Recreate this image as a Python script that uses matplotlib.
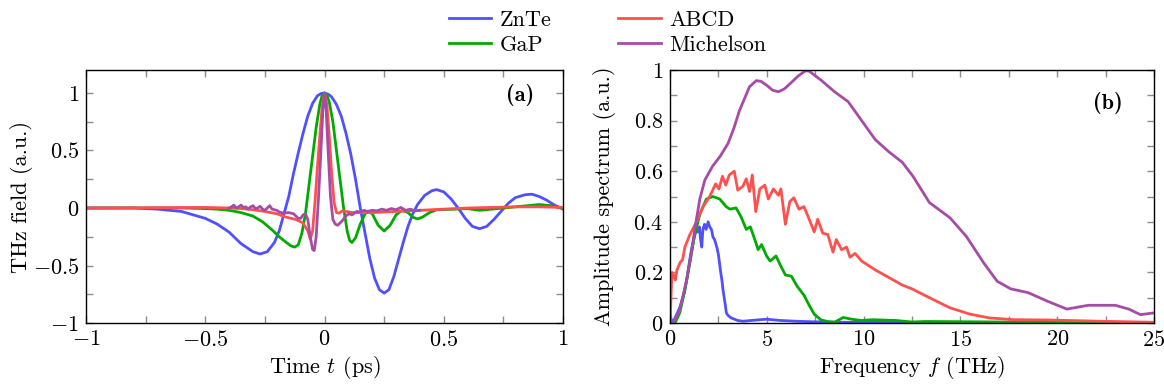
import numpy as np
from matplotlib import pyplot as plt
from matplotlib.ticker import MultipleLocator, FuncFormatter

plt.rcParams['font.family'] = 'cmr10'
plt.rcParams['mathtext.fontset'] = 'cm'
plt.rcParams['axes.formatter.use_mathtext'] = True
plt.rcParams['font.size'] = 16

# colours of the four detection schemes
c_znte = '#5050ff'
c_gap = '#00aa00'
c_abcd = '#ff5050'
c_mich = '#a64ca6'

# ---- (a) time domain, t in ps ----
t_znte = [-1.0, -0.8, -0.7, -0.6, -0.55, -0.5, -0.45, -0.4, -0.35, -0.3, -0.27, -0.24, -0.21,
          -0.19, -0.17, -0.15, -0.13, -0.11, -0.09, -0.07, -0.05, -0.03, -0.015, 0.0, 0.015,
          0.03, 0.05, 0.07, 0.09, 0.11, 0.13, 0.15, 0.17, 0.19, 0.21, 0.23, 0.25, 0.27, 0.29,
          0.31, 0.33, 0.35, 0.37, 0.39, 0.42, 0.45, 0.47, 0.5, 0.53, 0.56, 0.59, 0.62, 0.65,
          0.68, 0.71, 0.74, 0.77, 0.8, 0.84, 0.87, 0.9, 0.93, 0.96, 1.0]
e_znte = [0.0, 0.0, -0.01, -0.03, -0.06, -0.09, -0.14, -0.21, -0.31, -0.38, -0.4, -0.38, -0.3,
          -0.2, -0.05, 0.1, 0.3, 0.48, 0.65, 0.8, 0.91, 0.975, 0.995, 1.0, 0.99,
          0.965, 0.9, 0.8, 0.65, 0.47, 0.25, 0.0, -0.22, -0.44, -0.61, -0.71, -0.74, -0.71, -0.6,
          -0.45, -0.3, -0.16, -0.05, 0.03, 0.11, 0.15, 0.16, 0.14, 0.08, 0.0, -0.09, -0.16, -0.18,
          -0.16, -0.1, -0.03, 0.04, 0.09, 0.115, 0.12, 0.1, 0.07, 0.03, -0.01]

t_gap = [-1.0, -0.6, -0.5, -0.45, -0.4, -0.35, -0.3, -0.26, -0.22, -0.19, -0.16, -0.14, -0.125,
         -0.11, -0.095, -0.08, -0.065, -0.05, -0.035, -0.02, -0.01, 0.0, 0.01, 0.02, 0.035,
         0.05, 0.065, 0.08, 0.095, 0.105, 0.115, 0.13, 0.15, 0.17, 0.185, 0.2, 0.225, 0.25,
         0.275, 0.3, 0.325, 0.35, 0.37, 0.39, 0.41, 0.44, 0.47, 0.55, 0.6, 0.65, 0.7, 0.8,
         0.9, 0.95, 1.0]
e_gap = [0.0, 0.0, -0.005, -0.01, -0.02, -0.04, -0.07, -0.12, -0.19, -0.25, -0.3, -0.33, -0.34,
         -0.32, -0.22, -0.05, 0.2, 0.45, 0.7, 0.9, 0.98, 1.0, 0.98, 0.92, 0.75,
         0.5, 0.25, 0.0, -0.2, -0.28, -0.3, -0.26, -0.14, -0.05, -0.03, -0.05, -0.15, -0.2,
         -0.15, -0.06, -0.02, -0.04, -0.08, -0.095, -0.08, -0.04, -0.015, -0.01, -0.005, -0.02,
         -0.01, 0.01, 0.03, 0.02, 0.0]

t_abcd = [-1.0, -0.5, -0.4, -0.35, -0.3, -0.25, -0.2, -0.16, -0.12, -0.09, -0.07, -0.06, -0.05,
          -0.04, -0.03, -0.02, -0.01, 0.0, 0.01, 0.02, 0.03, 0.04, 0.05, 0.06, 0.075, 0.09,
          0.12, 0.2, 0.3, 0.4, 0.5, 0.6, 0.7, 0.8, 0.9, 1.0]
e_abcd = [0.0, 0.005, 0.0, -0.005, -0.015, -0.03, -0.05, -0.08, -0.1, -0.13, -0.2, -0.27, -0.2,
          0.05, 0.35, 0.62, 0.88, 1.0, 0.9, 0.62, 0.3, 0.05, -0.04, -0.045, -0.025, -0.03,
          -0.04, -0.04, -0.03, -0.02, -0.01, 0.0, 0.005, 0.01, 0.01, 0.005]

t_mich = [-0.4, -0.39, -0.38, -0.37, -0.36, -0.35, -0.34, -0.33, -0.32, -0.31, -0.3, -0.29,
          -0.28, -0.27, -0.26, -0.25, -0.24, -0.23, -0.22, -0.2, -0.19, -0.17, -0.15, -0.13,
          -0.12, -0.11, -0.1, -0.09, -0.08, -0.07, -0.06, -0.05, -0.043, -0.035, -0.025,
          -0.015, -0.007, 0.0, 0.007, 0.015, 0.025, 0.035, 0.045, 0.055, 0.065, 0.075, 0.085,
          0.095, 0.105, 0.115, 0.125, 0.135, 0.15, 0.165, 0.18, 0.2, 0.22, 0.24, 0.26, 0.28,
          0.3, 0.32, 0.34, 0.36, 0.38, 0.4]
e_mich = [0.0, 0.01, 0.025, 0.0, 0.01, 0.025, 0.005, 0.01, -0.01, 0.01, 0.02, -0.005,
          0.0, 0.015, -0.01, -0.02, 0.0, 0.02, -0.01, -0.02, -0.035, -0.045, -0.04, -0.05,
          -0.07, -0.09, -0.09, -0.06, -0.05, -0.1, -0.25, -0.36, -0.37, -0.25, 0.1,
          0.5, 0.85, 1.0, 0.85, 0.5, 0.1, -0.1, -0.14, -0.15, -0.13, -0.11, -0.08,
          -0.06, -0.05, -0.06, -0.045, -0.03, -0.035, -0.02, -0.03, -0.02, -0.025, -0.01, -0.02,
          -0.005, -0.015, 0.005, -0.02, -0.01, -0.025, -0.02]

# ---- (b) amplitude spectra, f in THz ----
f_znte = [0.0, 0.1, 0.2, 0.5, 0.7, 0.86, 1.0, 1.11, 1.25, 1.37, 1.45, 1.52, 1.58, 1.64, 1.7,
          1.78, 1.86, 1.97, 2.05, 2.14, 2.22, 2.3, 2.38, 2.45, 2.5, 2.57, 2.62, 2.68, 2.74,
          2.8, 2.86, 2.91, 3.0, 3.16, 3.5, 3.76, 4.2, 4.64, 5.0, 5.7, 6.5, 7.3, 9.0, 12.0, 25.0]
s_znte = [0.04, 0.0, 0.01, 0.06, 0.11, 0.17, 0.24, 0.29, 0.34, 0.37, 0.36, 0.38, 0.33, 0.3, 0.37,
          0.39, 0.37, 0.4, 0.38, 0.37, 0.34, 0.33, 0.31, 0.29, 0.27, 0.23, 0.2, 0.17, 0.13,
          0.1, 0.07, 0.04, 0.03, 0.02, 0.01, 0.007, 0.01, 0.013, 0.015, 0.01, 0.007, 0.005,
          0.003, 0.002, 0.001]

f_gap = [0.0, 0.26, 0.5, 0.77, 1.03, 1.28, 1.54, 1.88, 2.22, 2.57, 2.9, 3.1, 3.41, 3.67, 3.94,
         4.15, 4.38, 4.55, 4.73, 4.99, 5.17, 5.48, 5.69, 5.96, 6.27, 6.57, 6.92, 7.19, 7.45,
         7.8, 8.2, 8.5, 8.95, 9.38, 9.9, 10.44, 11.66, 12.5, 13.2, 15.2, 18.7, 25.0]
s_gap = [0.0, 0.0, 0.04, 0.13, 0.24, 0.35, 0.43, 0.49, 0.5, 0.49, 0.46, 0.45, 0.455, 0.42, 0.37,
         0.38, 0.33, 0.29, 0.31, 0.265, 0.245, 0.265, 0.23, 0.19, 0.185, 0.145, 0.11, 0.07,
         0.035, 0.012, 0.005, 0.003, 0.022, 0.015, 0.01, 0.013, 0.01, 0.004, 0.006, 0.005,
         0.003, 0.002]

f_abcd = [0.0, 0.05, 0.1, 0.18, 0.27, 0.36, 0.53, 0.65, 0.77, 1.03, 1.37, 1.71, 2.05, 2.36, 2.53,
          2.71, 2.88, 3.06, 3.32, 3.5, 3.76, 3.94, 4.11, 4.25, 4.43, 4.64, 4.9, 5.08, 5.34,
          5.6, 5.73, 5.96, 6.19, 6.4, 6.66, 6.92, 7.19, 7.45, 7.63, 7.89, 8.15, 8.42, 8.59,
          8.86, 9.12, 9.3, 9.56, 9.9, 10.6, 11.3, 12.0, 12.5, 13.4, 14.46, 15.5, 16.5, 17.8,
          19.5, 22.2, 25.0]
s_abcd = [0.0, 0.1, 0.2, 0.19, 0.17, 0.21, 0.24, 0.25, 0.3, 0.35, 0.4, 0.46, 0.5, 0.55, 0.53,
          0.58, 0.545, 0.585, 0.6, 0.525, 0.54, 0.57, 0.52, 0.585, 0.44, 0.53, 0.545, 0.49, 0.53,
          0.505, 0.53, 0.39, 0.48, 0.495, 0.45, 0.46, 0.41, 0.36, 0.41, 0.355, 0.35, 0.28, 0.33,
          0.29, 0.3, 0.26, 0.275, 0.245, 0.21, 0.18, 0.15, 0.135, 0.1, 0.06, 0.035, 0.02, 0.013,
          0.012, 0.007, 0.003]

f_mich = [0.0, 0.17, 0.5, 0.86, 1.11, 1.28, 1.54, 1.8, 2.2, 2.6, 3.0, 3.3, 3.59, 4.11, 4.46,
          4.7, 4.99, 5.3, 5.6, 5.9, 6.22, 6.6, 7.0, 7.2, 7.8, 8.5, 9.2, 9.9, 10.6, 11.3, 12.0,
          12.55, 13.4, 14.46, 15.3, 16.2, 16.9, 17.6, 18.5, 19.5, 20.5, 21.6, 23.0, 23.7,
          24.3, 25.0]
s_mich = [0.0, 0.0, 0.05, 0.17, 0.28, 0.37, 0.49, 0.565, 0.62, 0.66, 0.71, 0.77, 0.84, 0.934,
          0.958, 0.955, 0.94, 0.92, 0.914, 0.925, 0.947, 0.975, 0.997, 0.995, 0.96, 0.914,
          0.875, 0.8, 0.725, 0.677, 0.635, 0.58, 0.476, 0.416, 0.343, 0.238, 0.165, 0.135,
          0.12, 0.086, 0.055, 0.07, 0.07, 0.055, 0.033, 0.04]


def num_fmt(v, pos):
    return '$%g$' % round(v, 3)


def style_axis(ax):
    ax.tick_params(which='both', direction='in', top=True, right=True,
                   color='#8c8c8c', width=1.0, length=5, labelcolor='black', pad=5)
    for sp in ax.spines.values():
        sp.set_linewidth(1.0)
    ax.xaxis.set_major_formatter(FuncFormatter(num_fmt))
    ax.yaxis.set_major_formatter(FuncFormatter(num_fmt))


fig = plt.figure(figsize=(11.64, 3.88), dpi=100)
ax1 = fig.add_axes([0.0739, 0.1675, 0.4098, 0.6521])
ax2 = fig.add_axes([0.5756, 0.1675, 0.4158, 0.6521])

lw = 2.0
h1, = ax1.plot(t_znte, e_znte, color=c_znte, lw=lw, label='ZnTe')
h2, = ax1.plot(t_gap, e_gap, color=c_gap, lw=lw, label='GaP')
h3, = ax1.plot(t_abcd, e_abcd, color=c_abcd, lw=lw, label='ABCD')
h4, = ax1.plot(t_mich, e_mich, color=c_mich, lw=lw, label='Michelson')
ax1.set_xlim(-1, 1)
ax1.set_ylim(-1, 1.2)
ax1.xaxis.set_major_locator(MultipleLocator(0.5))
ax1.xaxis.set_minor_locator(MultipleLocator(0.25))
ax1.yaxis.set_major_locator(MultipleLocator(0.5))
ax1.yaxis.set_minor_locator(MultipleLocator(0.25))
style_axis(ax1)
ax1.set_xlabel('Time $t$ (ps)', labelpad=3)
ax1.set_ylabel('THz field (a.u.)')
ax1.yaxis.set_label_coords(-0.111, 0.5)
ax1.text(0.91, 0.9, '(a)', transform=ax1.transAxes, fontfamily='cmb10',
         ha='center', va='center')

ax2.plot(f_znte, s_znte, color=c_znte, lw=lw)
ax2.plot(f_gap, s_gap, color=c_gap, lw=lw)
ax2.plot(f_abcd, s_abcd, color=c_abcd, lw=lw)
ax2.plot(f_mich, s_mich, color=c_mich, lw=lw)
ax2.set_xlim(0, 25)
ax2.set_ylim(0, 1)
ax2.xaxis.set_major_locator(MultipleLocator(5))
ax2.xaxis.set_minor_locator(MultipleLocator(2.5))
ax2.yaxis.set_major_locator(MultipleLocator(0.2))
ax2.yaxis.set_minor_locator(MultipleLocator(0.1))
style_axis(ax2)
ax2.set_xlabel('Frequency $f$ (THz)', labelpad=3)
ax2.set_ylabel('Amplitude spectrum (a.u.)')
ax2.yaxis.set_label_coords(-0.111, 0.5)
ax2.text(0.905, 0.87, '(b)', transform=ax2.transAxes, fontfamily='cmb10',
         ha='center', va='center')

fig.legend(handles=[h1, h2, h3, h4], ncol=2, loc='upper center',
           bbox_to_anchor=(0.522, 1.025), frameon=False, handlelength=1.9,
           handletextpad=0.4, columnspacing=3.0, labelspacing=0.25)

fig.savefig('out.png', dpi=100)
